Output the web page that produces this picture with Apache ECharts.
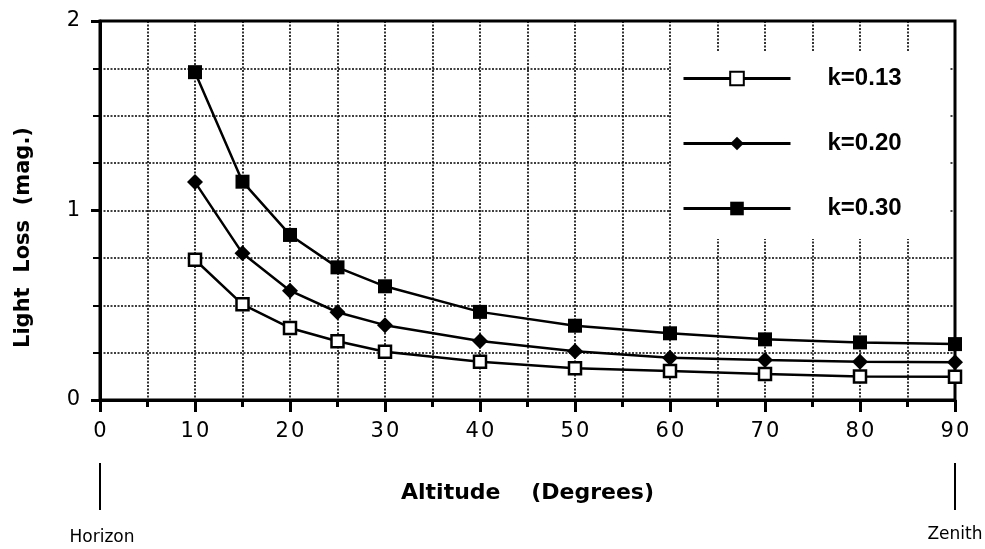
<!DOCTYPE html>
<html>
<head>
<meta charset="utf-8">
<script src="https://cdn.jsdelivr.net/npm/echarts@6/dist/echarts.min.js"></script>
<style>html,body{margin:0;padding:0;background:#fff}#c{width:985px;height:549px}</style>
</head>
<body>
<div id="c"></div>
<script>
const altitudes = [10, 15, 20, 25, 30, 40, 50, 60, 70, 80, 90];
const k013 = [0.74, 0.505, 0.38, 0.31, 0.255, 0.202, 0.168, 0.153, 0.137, 0.124, 0.123];
const k020 = [1.15, 0.774, 0.577, 0.463, 0.395, 0.311, 0.257, 0.223, 0.211, 0.202, 0.199];
const k030 = [1.73, 1.152, 0.871, 0.70, 0.60, 0.465, 0.392, 0.352, 0.32, 0.304, 0.295];
const seriesNames = ['k=0.13', 'k=0.20', 'k=0.30'];
const xTitle = 'Altitude    (Degrees)';
const yTitle = 'Light  Loss  (mag.)';
const leftNote = 'Horizon';
const rightNote = 'Zenith';

const pair = arr => altitudes.map((a, i) => [a, arr[i]]);
const gridLine = { show: true, lineStyle: { color: '#000', width: 1.6, type: [2, 1.5] } };
const axisFont = 'DejaVu Sans';

const chart = echarts.init(document.getElementById('c'), null, { renderer: 'canvas' });
chart.setOption({
  backgroundColor: '#fff',
  animation: false,
  grid: { left: 100, right: 30, top: 21, bottom: 149, show: true, borderColor: '#000', borderWidth: 3, backgroundColor: 'transparent' },
  legend: {
    orient: 'vertical', left: 671, top: 52,
    padding: [13, 48, 17, 11],
    backgroundColor: '#fff',
    itemWidth: 107, itemHeight: 17, itemGap: 38,
    data: seriesNames,
    lineStyle: { width: 3, color: '#000' },
    textStyle: { fontFamily: 'Liberation Sans', fontWeight: 'bold', fontSize: 24, color: '#000', lineHeight: 27, padding: [0, 0, 0, 32] },
    inactiveColor: '#000'
  },
  xAxis: {
    type: 'value', min: 0, max: 90, interval: 10,
    name: xTitle, nameLocation: 'middle', nameGap: 82,
    nameTextStyle: { fontFamily: axisFont, fontWeight: 'bold', fontSize: 22, color: '#000' },
    axisLine: { show: true, lineStyle: { color: '#000', width: 3 } },
    axisTick: { show: true, length: 12, lineStyle: { color: '#000', width: 3 } },
    minorTick: { show: true, splitNumber: 2, length: 7, lineStyle: { color: '#000', width: 3 } },
    axisLabel: { fontFamily: axisFont, fontSize: 21, color: '#000', margin: 21,
      formatter: v => String(v).split('').join('\u200A') },
    splitLine: gridLine,
    minorSplitLine: gridLine
  },
  yAxis: {
    type: 'value', min: 0, max: 2, interval: 1,
    name: yTitle, nameLocation: 'middle', nameGap: 66, nameRotate: 90,
    nameTextStyle: { fontFamily: axisFont, fontWeight: 'bold', fontSize: 21, color: '#000', padding: [0, 54, 0, 0] },
    axisLine: { show: true, lineStyle: { color: '#000', width: 3 } },
    axisTick: { show: true, length: 9, lineStyle: { color: '#000', width: 3 } },
    minorTick: { show: true, splitNumber: 4, length: 7, lineStyle: { color: '#000', width: 2 } },
    axisLabel: { fontFamily: axisFont, fontSize: 21, color: '#000', margin: 20 },
    splitLine: gridLine,
    minorSplitLine: gridLine
  },
  series: [
    { name: seriesNames[0], type: 'line', data: pair(k013), symbol: 'rect', symbolSize: 12,
      lineStyle: { color: '#000', width: 2.5 }, itemStyle: { color: '#fff', borderColor: '#000', borderWidth: 2.5 }, z: 3 },
    { name: seriesNames[1], type: 'line', data: pair(k020), symbol: 'diamond', symbolSize: 16,
      lineStyle: { color: '#000', width: 2.5 }, itemStyle: { color: '#000' }, z: 4 },
    { name: seriesNames[2], type: 'line', data: pair(k030), symbol: 'rect', symbolSize: 14,
      lineStyle: { color: '#000', width: 2.5 }, itemStyle: { color: '#000' }, z: 5 }
  ]
});

const x0 = chart.convertToPixel({ xAxisIndex: 0 }, 0);
const x90 = chart.convertToPixel({ xAxisIndex: 0 }, 90);
chart.setOption({
  graphic: [
    { type: 'line', shape: { x1: x0, y1: 463, x2: x0, y2: 510 }, style: { stroke: '#000', lineWidth: 2 } },
    { type: 'line', shape: { x1: x90, y1: 463, x2: x90, y2: 510 }, style: { stroke: '#000', lineWidth: 2 } },
    { type: 'text', x: x0 + 2, y: 538, style: { text: leftNote, fill: '#000', font: '17px "DejaVu Sans"', align: 'center', verticalAlign: 'middle' } },
    { type: 'text', x: x90, y: 535, style: { text: rightNote, fill: '#000', font: '17px "DejaVu Sans"', align: 'center', verticalAlign: 'middle' } }
  ]
});
</script>
</body>
</html>
